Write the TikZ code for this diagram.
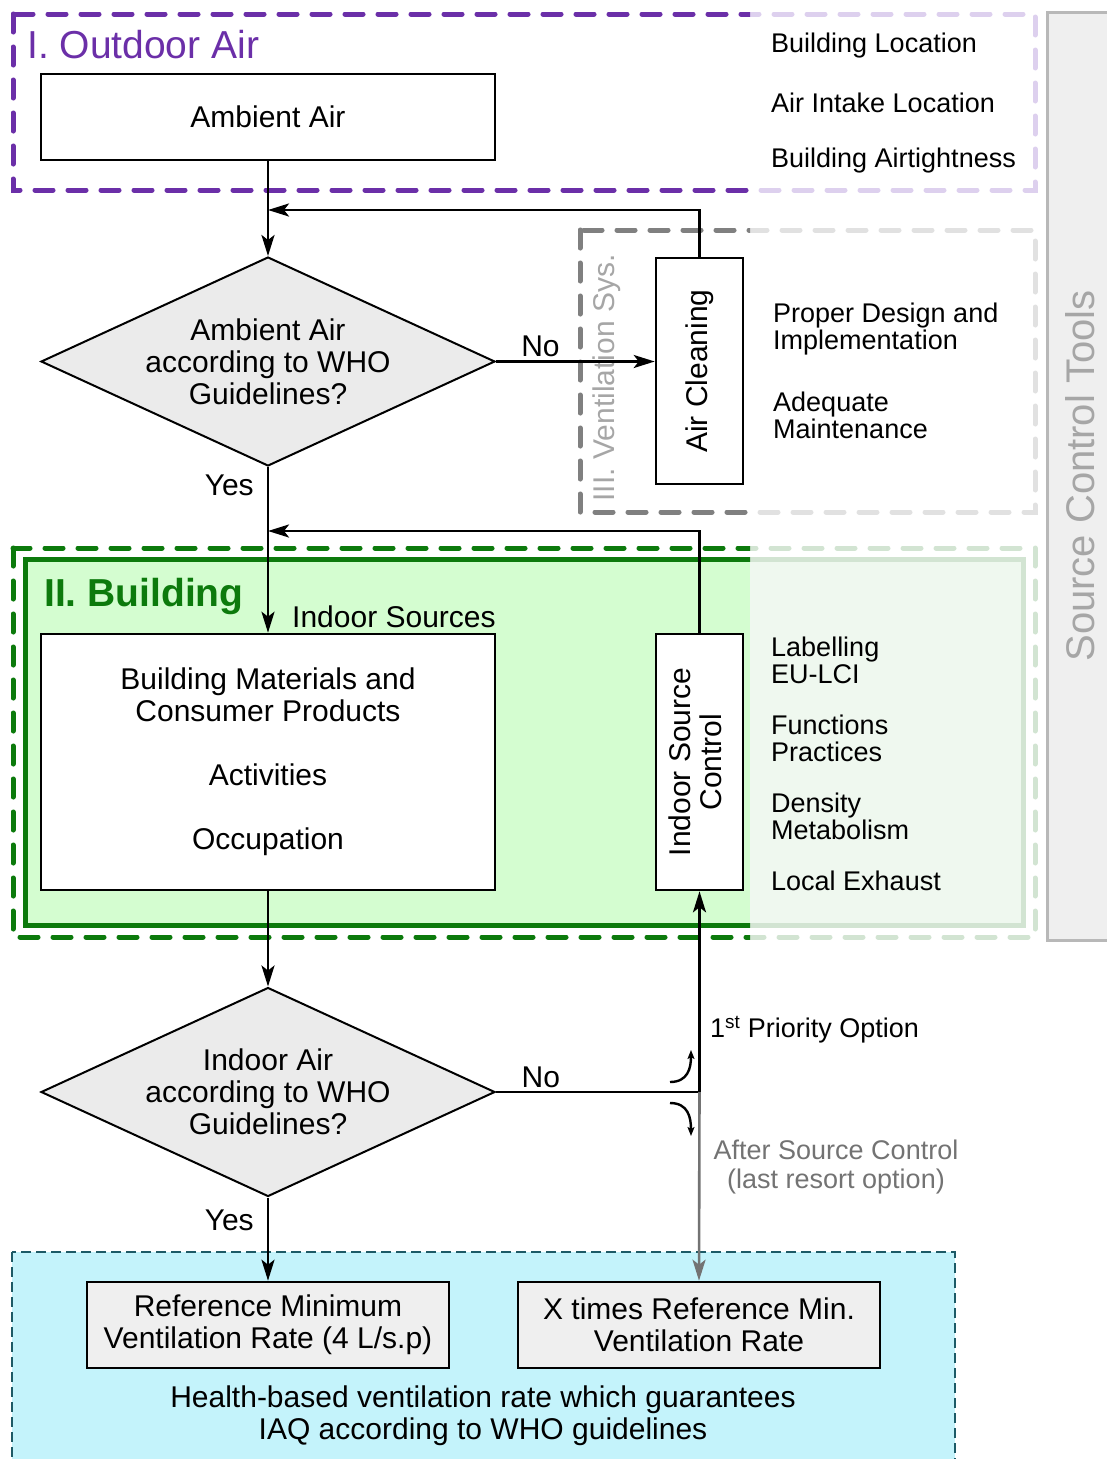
\documentclass[tikz,border=0pt]{standalone}
\usepackage{fontspec}
\setmainfont{Liberation Sans}
\usepackage{graphicx}
\usepackage{tikz}
\usetikzlibrary{shapes.geometric, arrows.meta, positioning}
\definecolor{outdoor}{RGB}{107,47,168}
\definecolor{outdoorpale}{RGB}{221,208,238}
\definecolor{ventdark}{RGB}{128,128,128}
\definecolor{ventpale}{RGB}{225,225,225}
\definecolor{building}{RGB}{12,122,12}
\definecolor{buildpale}{RGB}{210,228,210}
\definecolor{buildfill}{RGB}{212,253,208}
\definecolor{buildlight}{RGB}{239,248,239}
\definecolor{iaqfill}{RGB}{196,243,251}
\definecolor{iaqline}{RGB}{29,90,102}
\definecolor{diafill}{RGB}{235,235,235}
\definecolor{boxfill}{RGB}{239,239,239}
\definecolor{tooltext}{RGB}{166,166,166}
\definecolor{lastresort}{RGB}{115,115,115}
\newcommand{\boxfont}{\fontsize{30}{32}\selectfont}
\newcommand{\sidefont}{\fontsize{27}{27}\selectfont}
\newcommand{\titlefont}{\fontsize{39}{39}\selectfont}
\tikzstyle{process} = [rectangle, minimum width=454pt, minimum height=86pt, text centered, align=center, draw=black, line width=2.6pt, font=\boxfont]
\tikzstyle{decision} = [diamond, minimum width=454pt, minimum height=209pt, draw=black, line width=2pt, fill=diafill, inner sep=0pt]
\tikzstyle{question} = [align=center, font=\boxfont]
\tikzstyle{vertbox} = [rectangle, minimum width=87pt, text centered, draw=black, line width=2.6pt, fill=white, font=\fontsize{30}{30}\selectfont]
\tikzstyle{result} = [rectangle, minimum width=362pt, minimum height=86pt, text centered, align=center, draw=black, line width=2.6pt, fill=boxfill, font=\boxfont]
\tikzstyle{sidetext} = [anchor=west, align=left, inner sep=0pt, font=\sidefont]
\tikzstyle{zone} = [line width=5pt, dash pattern=on 18pt off 15pt, line cap=round]
\tikzstyle{line} = [line width=2.6pt]
\tikzstyle{arrow} = [line width=2.6pt,-{Stealth[length=21pt,width=13pt,inset=5pt]}]
\tikzstyle{grayarrow} = [line width=2.6pt,draw=lastresort,-{Stealth[length=21pt,width=13pt,inset=5pt]}]
\tikzstyle{smallarrow} = [line width=2.4pt,-{Stealth[length=9pt,width=7pt,inset=2pt]}]

\begin{document}
\begin{tikzpicture}[x=1pt, y=-1pt]
                        \useasboundingbox (0,0) rectangle (1107,1459);
                        % zones, pale right part first
                        \fill[buildlight] (25,559) rectangle (1023,925);
                        \fill[buildfill] (25,559) rectangle (750,925);
                        \draw[zone, draw=outdoorpale] (13,14) rectangle (1035,190);
                        \draw[zone, draw=ventpale] (580,230) rectangle (1035,512);
                        \draw[line width=5pt, draw=buildpale] (25,559) rectangle (1023,925);
                        \draw[zone, draw=buildpale] (13,548) rectangle (1035,937);
                        \begin{scope}
                            \clip (0,0) rectangle (750,1459);
                            \draw[zone, draw=outdoor] (13,14) rectangle (1035,190);
                            \draw[zone, draw=ventdark] (580,230) rectangle (1035,512);
                            \draw[line width=5pt, draw=building] (25,559) rectangle (1023,925);
                            \draw[zone, draw=building] (13,548) rectangle (1035,937);
                        \end{scope}
                        \draw[fill=iaqfill, draw=iaqline, line width=2.5pt, dash pattern=on 10pt off 5pt] (12,1252) rectangle (955,1466);
                        \node (SCT) [rectangle, minimum width=66pt, minimum height=928pt, fill=boxfill, draw=tooltext!80, line width=3pt, text=tooltext, font=\fontsize{40}{40}\selectfont] at (1080,476) {\rotatebox{90}{Source Control Tools}};
                        % zone titles and lists
                        \node (OAtitle) [anchor=west, inner sep=0pt, text=outdoor, font=\titlefont] at (27,45) {I. Outdoor Air};
                        \node (BLoc) [sidetext] at (771,46) {Building Location};
                        \node (AILoc) [sidetext] at (771,103) {Air Intake Location};
                        \node (BAir) [sidetext] at (771,161) {Building Airtightness};
                        \node (VStitle) [text=tooltext, font=\boxfont, inner sep=0pt] at (607,378) {\rotatebox{90}{III. Ventilation Sys.}};
                        \node (PDI) [sidetext] at (773,329) {Proper Design and\\Implementation};
                        \node (AMaint) [sidetext] at (773,415) {Adequate\\Maintenance};
                        \node (BDtitle) [anchor=west, inner sep=0pt, text=building, font=\titlefont\bfseries] at (44,596) {II. Building};
                        \node (ISrc) [anchor=west, inner sep=0pt, font=\boxfont] at (292,617) {Indoor Sources};
                        \node (Lab) [sidetext] at (771,660) {Labelling\\EU-LCI};
                        \node (Func) [sidetext] at (771,738) {Functions\\Practices};
                        \node (Dens) [sidetext] at (771,816) {Density\\Metabolism};
                        \node (LExh) [sidetext] at (771,881) {Local Exhaust};
                        % flow
                        \node (AA) [process] at (268,117) {Ambient Air};
                        \node (AAQ) [decision, label={[question]center:Ambient Air\\according to WHO\\Guidelines?}] at (268,361.5) {};
                        \node (AC) [vertbox, minimum height=226pt] at (699.5,371) {\rotatebox{90}{Air Cleaning}};
                        \node (BM) [process, minimum height=256pt, fill=white] at (268,762) {Building Materials and\\Consumer Products\\[32pt]Activities\\[32pt]Occupation};
                        \node (ISC) [vertbox, minimum height=256pt] at (699.5,762) {\rotatebox{90}{\begin{tabular}{@{}c@{}}Indoor Source\\Control\end{tabular}}};
                        \node (IAQ) [decision, label={[question]center:Indoor Air\\according to WHO\\Guidelines?}] at (268,1092) {};
                        \node (RMV) [result] at (268,1325) {Reference Minimum\\Ventilation Rate (4 L/s.p)};
                        \node (XRV) [result] at (699,1325) {X times Reference Min.\\Ventilation Rate};
                        \node (HB) [align=center, font=\boxfont] at (483,1416) {Health-based ventilation rate which guarantees\\IAQ according to WHO guidelines};
                        \node (Prio) [sidetext] at (710,1030) {1\textsuperscript{st} Priority Option};
                        \node (Last) [align=center, text=lastresort, font=\fontsize{27}{29}\selectfont] at (836,1167) {After Source Control\\(last resort option)};
                        \coordinate (J1) at (268,210);
                        \coordinate (J2) at (268,531);
                        \coordinate (S1) at (ISC.south |- IAQ.east);
                        \draw [arrow] (AA) -- (AAQ);
                        \draw [arrow] (AAQ.east) -- node (NoA) [pos=0.28, above, font=\boxfont, inner sep=3pt] {No} (AC.west |- AAQ.east);
                        \draw [arrow] (AC.north) |- (J1);
                        \draw [arrow] (AAQ) -- node (YesA) [pos=0.11, left, font=\boxfont, inner sep=13pt] {Yes} (BM);
                        \draw [arrow] (ISC.north) |- (J2);
                        \draw [arrow] (BM) -- (IAQ);
                        \draw [line] (IAQ.east) -- node (NoB) [pos=0.22, above, font=\boxfont, inner sep=3pt] {No} (S1);
                        \draw [arrow] (S1) -- (ISC.south);
                        \draw [grayarrow] (S1) -- (XRV.north);
                        \draw [arrow] (IAQ) -- node (YesB) [pos=0.28, left, font=\boxfont, inner sep=13pt] {Yes} (RMV);
                        \draw [smallarrow] (670,1082) .. controls (688,1082) and (691,1068) .. (691,1050);
                        \draw [smallarrow] (670,1103) .. controls (688,1103) and (691,1117) .. (691,1136);
                    \end{tikzpicture}
\end{document}
